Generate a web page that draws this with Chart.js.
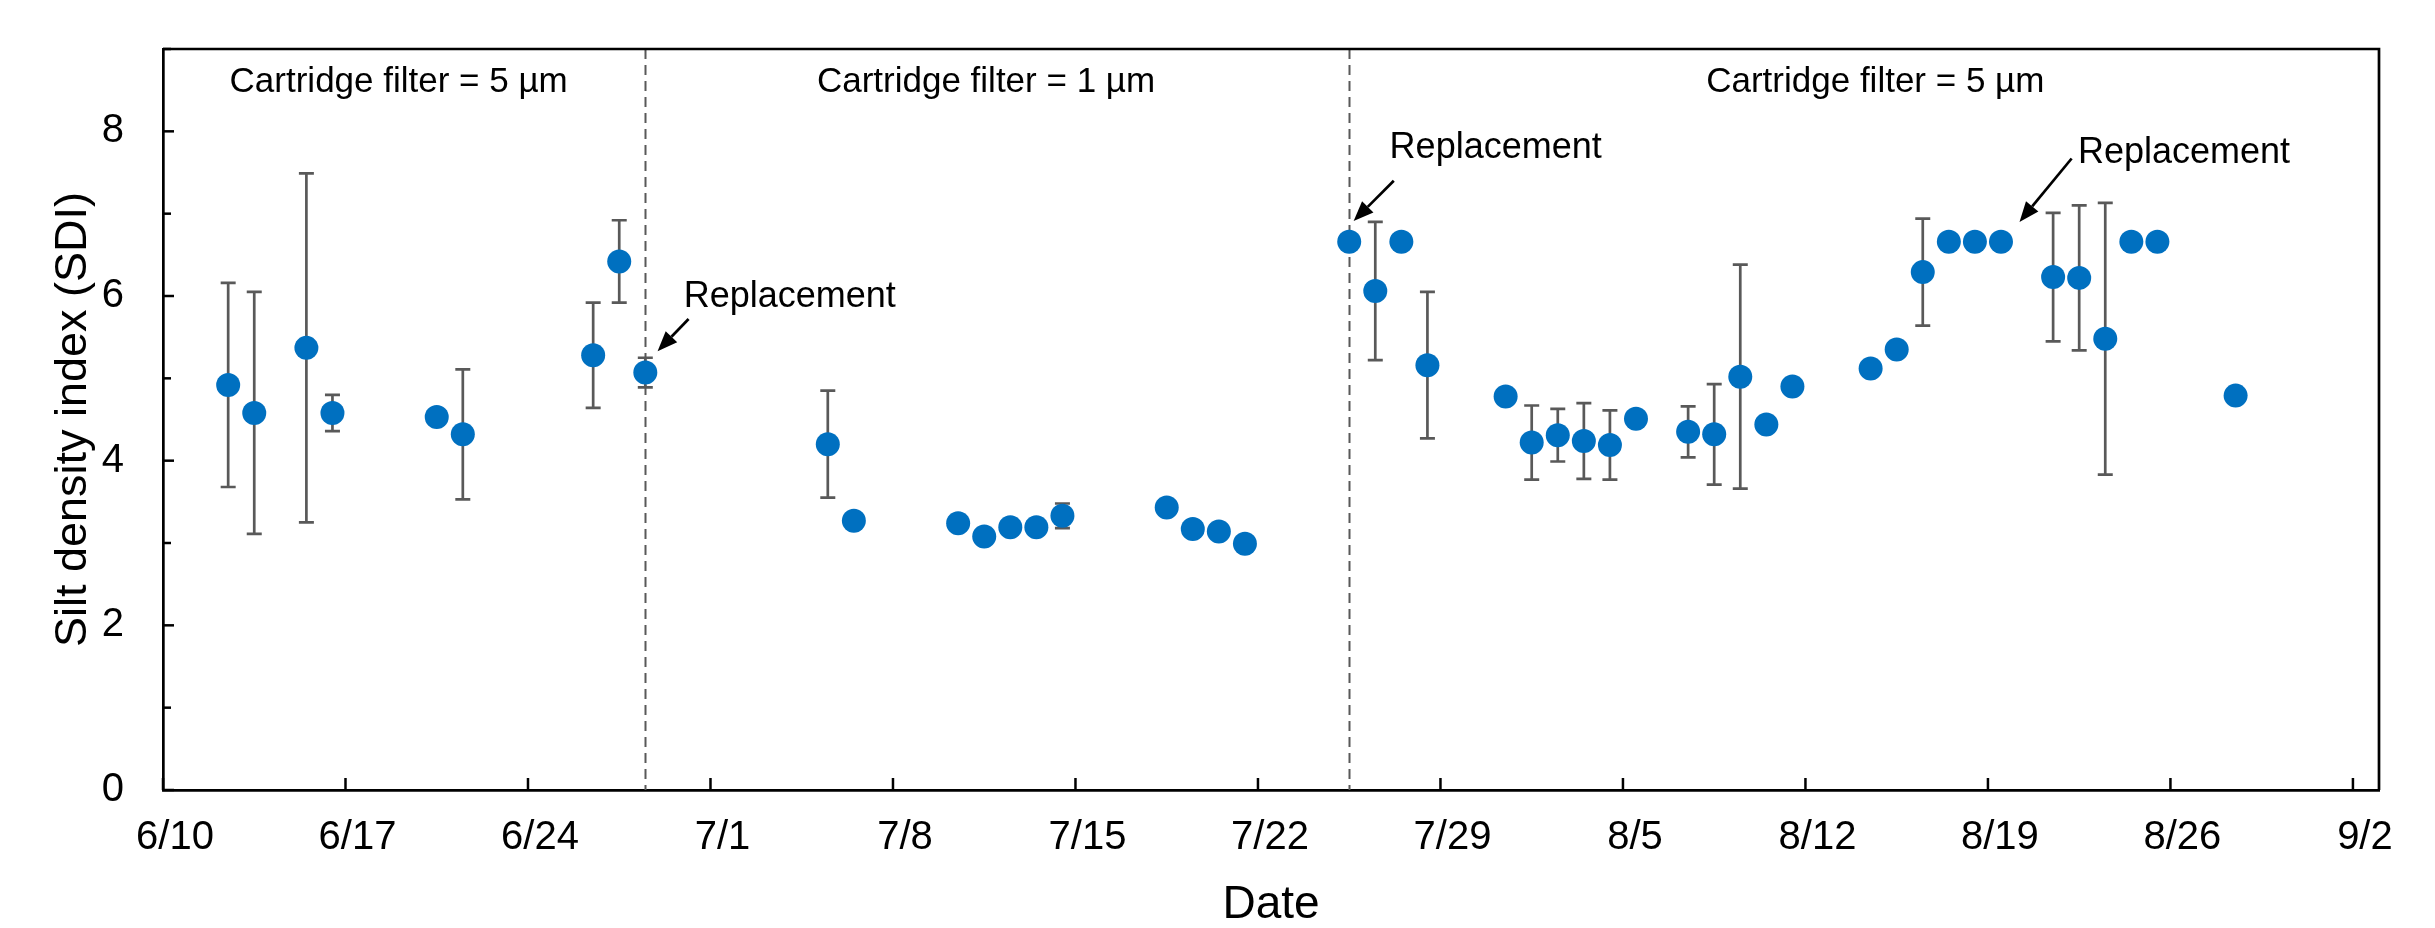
<!DOCTYPE html>
<html>
<head>
<meta charset="utf-8">
<script src="https://cdn.jsdelivr.net/npm/chart.js@4/dist/chart.umd.min.js"></script>
<style>
  body { margin: 0; background: #fff; }
  canvas { display: block; }
</style>
</head>
<body>
<canvas id="sdiChart" width="2435" height="928"></canvas>
<script>
// sampling dates (month/day) and silt density index with +/- error
const dates = ['6/12','6/13','6/15','6/16','6/20','6/21','6/26','6/27','6/28',
  '7/5','7/6','7/10','7/11','7/12','7/13','7/14','7/18','7/19','7/20','7/21',
  '7/25','7/26','7/27','7/28','7/31','8/1','8/2','8/3','8/4','8/5',
  '8/7','8/8','8/9','8/10','8/11','8/14','8/15','8/16','8/17','8/18','8/19',
  '8/21','8/22','8/23','8/24','8/25','8/28'];
const sdi = [4.92, 4.58, 5.37, 4.58, 4.53, 4.32, 5.28, 6.42, 5.07,
  4.20, 3.27, 3.24, 3.08, 3.19, 3.19, 3.33, 3.43, 3.17, 3.14, 2.99,
  6.66, 6.06, 6.66, 5.16, 4.78, 4.22, 4.31, 4.24, 4.19, 4.51,
  4.35, 4.32, 5.02, 4.44, 4.90, 5.12, 5.35, 6.29, 6.66, 6.66, 6.66,
  6.23, 6.22, 5.48, 6.66, 6.66, 4.79];
const sdiErr = [1.24, 1.47, 2.12, 0.22, 0, 0.79, 0.64, 0.50, 0.18,
  0.65, 0, 0, 0, 0, 0, 0.15, 0, 0, 0, 0,
  0, 0.84, 0, 0.89, 0, 0.45, 0.32, 0.46, 0.42, 0,
  0.31, 0.61, 1.36, 0, 0, 0, 0, 0.65, 0, 0, 0,
  0.78, 0.88, 1.65, 0, 0, 0];

const tickLabels = ['6/10','6/17','6/24','7/1','7/8','7/15','7/22','7/29','8/5','8/12','8/19','8/26','9/2'];
const dividerDates = ['6/28', '7/25'];
const sectionLabels = ['Cartridge filter = 5 µm', 'Cartridge filter = 1 µm', 'Cartridge filter = 5 µm'];
const replacementLabel = 'Replacement';

// days since 6/10, samples plotted at mid-day
function toDay(md) {
  const [m, d] = md.split('/').map(Number);
  return (Date.UTC(2019, m - 1, d) - Date.UTC(2019, 5, 10)) / 86400000;
}
const xs = dates.map(d => toDay(d) + 0.5);

// annotation placement in data units (day, SDI)
const sectionPos = [[9.04, 8.59], [31.57, 8.59], [65.68, 8.59]];
const arrows = [
  { text: [19.97, 5.99], from: [20.16, 5.72], to: [18.97, 5.33] },
  { text: [47.05, 7.80], from: [47.21, 7.40], to: [45.67, 6.91] },
  { text: [73.45, 7.73], from: [73.21, 7.67], to: [71.21, 6.90] }
];

const FONT = '"Liberation Sans", Arial, sans-serif';

const overlay = {
  id: 'overlay',
  beforeDatasetsDraw(chart) {
    const { ctx, chartArea: a, scales: { x, y } } = chart;
    ctx.save();
    // dashed dividers
    ctx.strokeStyle = '#595959';
    ctx.lineWidth = 2;
    ctx.setLineDash([10, 6]);
    dividerDates.forEach(d => {
      const px = Math.round(x.getPixelForValue(toDay(d) + 0.5)) + 0.5;
      ctx.beginPath(); ctx.moveTo(px, a.top); ctx.lineTo(px, a.bottom); ctx.stroke();
    });
    ctx.setLineDash([]);
    // error bars
    ctx.lineWidth = 2.7;
    sdi.forEach((v, i) => {
      const e = sdiErr[i];
      if (!e) return;
      const px = x.getPixelForValue(xs[i]);
      const top = y.getPixelForValue(v + e), bot = y.getPixelForValue(v - e);
      ctx.beginPath();
      ctx.moveTo(px, top); ctx.lineTo(px, bot);
      ctx.moveTo(px - 7.5, top); ctx.lineTo(px + 7.5, top);
      ctx.moveTo(px - 7.5, bot); ctx.lineTo(px + 7.5, bot);
      ctx.stroke();
    });
    ctx.restore();
  },
  afterDraw(chart) {
    const { ctx, chartArea: a, scales: { x, y } } = chart;
    ctx.save();
    ctx.strokeStyle = '#000';
    ctx.lineWidth = 2.7;
    // top and right frame
    ctx.beginPath();
    ctx.moveTo(a.left, a.top); ctx.lineTo(a.right, a.top); ctx.lineTo(a.right, a.bottom);
    ctx.stroke();
    // inward tick marks
    ctx.lineWidth = 2.5;
    x.ticks.forEach(t => {
      const px = x.getPixelForValue(t.value);
      ctx.beginPath(); ctx.moveTo(px, a.bottom); ctx.lineTo(px, a.bottom - 12); ctx.stroke();
    });
    y.ticks.forEach(t => {
      const py = y.getPixelForValue(t.value);
      const len = t.value % 2 === 0 ? 11 : 8;
      ctx.beginPath(); ctx.moveTo(a.left, py); ctx.lineTo(a.left + len, py); ctx.stroke();
    });
    // section labels
    ctx.fillStyle = '#000';
    ctx.font = '35px ' + FONT;
    ctx.textAlign = 'center';
    ctx.textBaseline = 'middle';
    sectionLabels.forEach((s, i) => {
      ctx.fillText(s, x.getPixelForValue(sectionPos[i][0]), y.getPixelForValue(sectionPos[i][1]));
    });
    // replacement arrows
    ctx.font = '36px ' + FONT;
    ctx.textAlign = 'left';
    arrows.forEach(ar => {
      ctx.fillText(replacementLabel, x.getPixelForValue(ar.text[0]), y.getPixelForValue(ar.text[1]));
      const x0 = x.getPixelForValue(ar.from[0]), y0 = y.getPixelForValue(ar.from[1]);
      const x1 = x.getPixelForValue(ar.to[0]), y1 = y.getPixelForValue(ar.to[1]);
      const ang = Math.atan2(y1 - y0, x1 - x0);
      const hl = 20, hw = 8;
      const bx = x1 - hl * Math.cos(ang), by = y1 - hl * Math.sin(ang);
      ctx.lineWidth = 2.7;
      ctx.beginPath(); ctx.moveTo(x0, y0); ctx.lineTo(bx, by); ctx.stroke();
      ctx.beginPath();
      ctx.moveTo(x1, y1);
      ctx.lineTo(bx + hw * Math.sin(ang), by - hw * Math.cos(ang));
      ctx.lineTo(bx - hw * Math.sin(ang), by + hw * Math.cos(ang));
      ctx.closePath();
      ctx.fill();
    });
    ctx.restore();
  }
};

new Chart(document.getElementById('sdiChart').getContext('2d'), {
  type: 'scatter',
  data: {
    datasets: [{
      data: xs.map((d, i) => ({ x: d, y: sdi[i] })),
      backgroundColor: '#0070C0',
      borderWidth: 0,
      pointRadius: 12,
      pointHoverRadius: 12
    }]
  },
  options: {
    responsive: false,
    animation: false,
    devicePixelRatio: 1,
    layout: { padding: { left: 51.5, right: 56, top: 49, bottom: 0 } },
    plugins: { legend: { display: false }, tooltip: { enabled: false } },
    scales: {
      x: {
        type: 'linear',
        min: 0,
        max: 85,
        grid: { display: false, drawTicks: false },
        border: { display: true, color: '#000', width: 2.7 },
        ticks: {
          stepSize: 7,
          includeBounds: false,
          autoSkip: false,
          maxRotation: 0,
          labelOffset: 12,
          padding: 24,
          color: '#000',
          font: { family: FONT, size: 40 },
          callback: v => tickLabels[Math.round(v / 7)]
        },
        title: {
          display: true,
          text: 'Date',
          color: '#000',
          padding: 0,
          font: { family: FONT, size: 46, lineHeight: 1 }
        },
        afterFit: s => { s.height = 138; s.paddingLeft = 0; s.paddingRight = 0; }
      },
      y: {
        min: 0,
        max: 9,
        grid: { display: false, drawTicks: false },
        border: { display: true, color: '#000', width: 2.7 },
        ticks: {
          stepSize: 1,
          padding: 39,
          color: '#000',
          font: { family: FONT, size: 40 },
          callback: v => (v % 2 === 0 ? v : '')
        },
        title: {
          display: true,
          text: 'Silt density index (SDI)',
          color: '#000',
          padding: 0,
          font: { family: FONT, size: 45, lineHeight: 1 }
        },
        afterFit: s => { s.width = 111.5; s.paddingTop = 0; s.paddingBottom = 0; }
      }
    }
  },
  plugins: [overlay]
});
</script>
</body>
</html>
